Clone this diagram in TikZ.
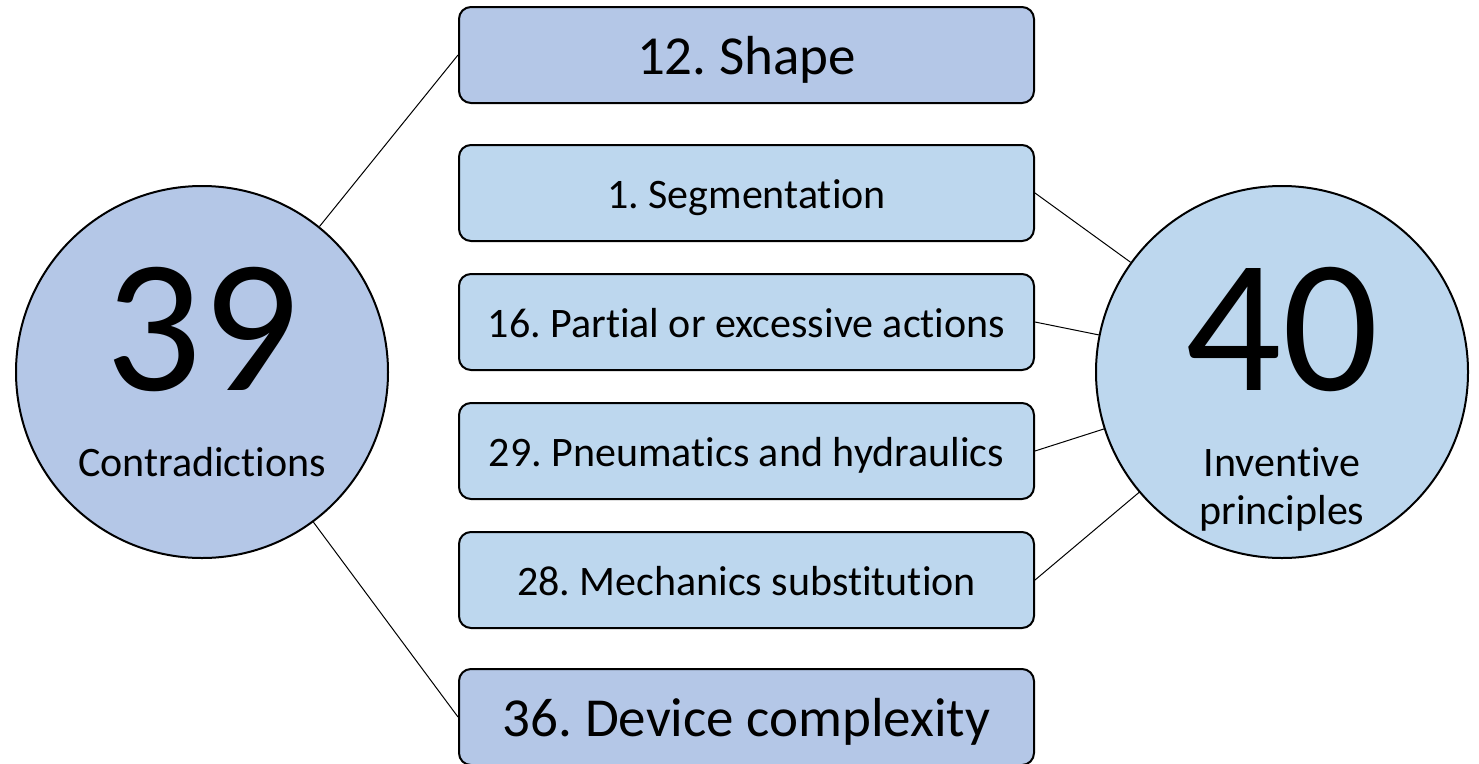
\documentclass[tikz,border=0pt]{standalone}
\usepackage{fontspec}
\setmainfont{Carlito}[Ligatures={NoCommon}]
\frenchspacing
\definecolor{darkblue}{HTML}{B4C7E7}
\definecolor{lightblue}{HTML}{BDD7EE}
\begin{document}
\begin{tikzpicture}[x=1pt,y=-1pt,
  box/.style={draw=black, line width=2pt, rounded corners=12pt, minimum width=575pt,
    minimum height=96pt, inner sep=0pt},
  bigbox/.style={box, fill=darkblue, font=\fontsize{55}{66}\selectfont,
    text height=45pt, text depth=6pt},
  smallbox/.style={box, fill=lightblue, font=\fontsize{42}{50}\selectfont,
    text height=34pt, text depth=4pt},
  bigcircle/.style={circle, draw=black, line width=2pt, minimum size=372pt, inner sep=0pt},
  numtext/.style={anchor=base, font=\fontsize{190}{190}\selectfont, inner sep=0pt},
  captext/.style={anchor=base, font=\fontsize{42}{50}\selectfont, inner sep=0pt},
  link/.style={draw=black, line width=1pt}]
\useasboundingbox (0,0) rectangle (1479,763);

\node[bigcircle, fill=darkblue] (c39) at (202,372) {};
\node[bigcircle, fill=lightblue] (c40) at (1282,372) {};

\node[numtext] (n39) at (202,390) {39};
\node[captext] (t39) at (202,476) {Contradictions};
\node[numtext] (n40) at (1282,390) {40};
\node[captext] (t40a) at (1282,476) {Inventive};
\node[captext] (t40b) at (1282,524) {principles};

\node[bigbox] (b1) at (746.5,55) {12. Shape};
\node[smallbox] (b2) at (746.5,193) {1. Segmentation};
\node[smallbox] (b3) at (746.5,322) {16. Partial or excessive actions};
\node[smallbox] (b4) at (746.5,451) {29. Pneumatics and hydraulics};
\node[smallbox] (b5) at (746.5,580) {28. Mechanics substitution};
\node[bigbox] (b6) at (746.5,717) {36. Device complexity};

\draw[link] (b1.west) -- (c39);
\draw[link] (b6.west) -- (c39);
\draw[link] (b2.east) -- (c40);
\draw[link] (b3.east) -- (c40);
\draw[link] (b4.east) -- (c40);
\draw[link] (b5.east) -- (c40);
\end{tikzpicture}
\end{document}
